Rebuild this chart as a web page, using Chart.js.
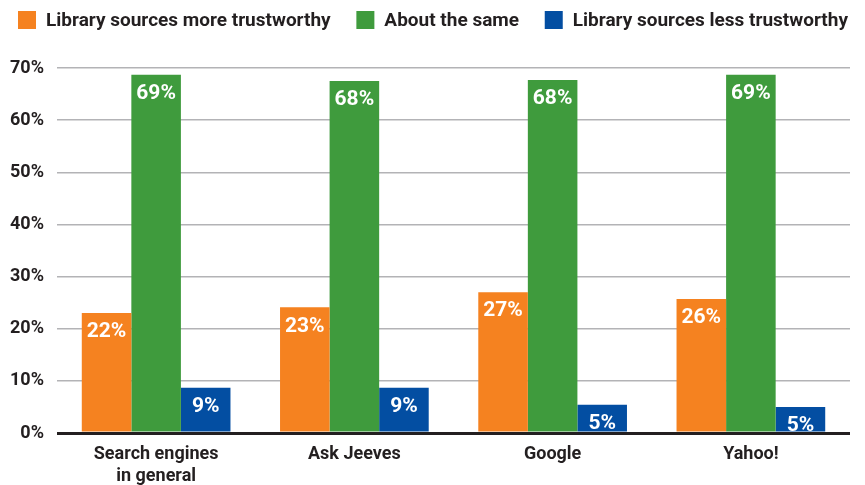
<!DOCTYPE html>
<html>
<head>
<meta charset="utf-8">
<script src="https://cdn.jsdelivr.net/npm/chart.js@4.4.1/dist/chart.umd.min.js"></script>
<style>
  html, body { margin: 0; padding: 0; background: #fff; }
  #wrap { width: 865px; height: 485px; position: relative; }
</style>
</head>
<body>
<div id="wrap"><canvas id="chart"></canvas></div>
<script>
// categorii si serii
const categories = [['Search engines', 'in general'], 'Ask Jeeves', 'Google', 'Yahoo!'];
const seriesNames = ['Library sources more trustworthy', 'About the same', 'Library sources less trustworthy'];

// inaltimea barelor (cum apar pe axa)
const moreTrust = [23.0, 24.1, 27.0, 25.7];
const aboutSame = [68.7, 67.5, 67.7, 68.7];
const lessTrust = [8.7, 8.7, 5.4, 5.0];

// etichetele tiparite pe bare
const moreLabels = ['22%', '23%', '27%', '26%'];
const sameLabels = ['69%', '68%', '68%', '69%'];
const lessLabels = ['9%', '9%', '5%', '5%'];

const yTicks = [0, 10, 20, 30, 40, 50, 60, 70];

const colors = ['#f58220', '#3f9b3d', '#034ea2'];
const textColor = '#231f20';
const fontFamily = 'Roboto, "Noto Sans", sans-serif';

// etichete albe in varful barelor
const barLabels = {
    id: 'barLabels',
    afterDatasetsDraw(chart) {
        const ctx = chart.ctx;
        ctx.save();
        ctx.fillStyle = '#ffffff';
        ctx.font = 'bold 21px ' + fontFamily;
        ctx.textAlign = 'center';
        ctx.textBaseline = 'middle';
        chart.data.datasets.forEach((ds, i) => {
            const meta = chart.getDatasetMeta(i);
            meta.data.forEach((bar, j) => {
                ctx.fillText(ds.printed[j], bar.x, bar.y + 19);
            });
        });
        ctx.restore();
    }
};

// legenda desenata manual, intinsa pe toata latimea de sus
const topLegend = {
    id: 'topLegend',
    afterDraw(chart) {
        const ctx = chart.ctx;
        const left = 18, right = 848, box = 18, gap = 10, y = 20;
        ctx.save();
        ctx.font = 'bold 19px ' + fontFamily;
        ctx.textBaseline = 'middle';
        const widths = chart.data.datasets.map(ds => box + gap + ctx.measureText(ds.label).width);
        const total = widths.reduce((a, b) => a + b, 0);
        const space = (right - left - total) / (widths.length - 1);
        let x = left;
        chart.data.datasets.forEach((ds, i) => {
            ctx.fillStyle = ds.backgroundColor;
            ctx.fillRect(x, y - box / 2, box, box);
            ctx.fillStyle = textColor;
            ctx.fillText(ds.label, x + box + gap, y + 1);
            x += widths[i] + space;
        });
        ctx.restore();
    }
};

const ctx = document.getElementById('chart').getContext('2d');

new Chart(ctx, {
    type: 'bar',
    data: {
        labels: categories,
        datasets: [
            { label: seriesNames[0], data: moreTrust, printed: moreLabels, backgroundColor: colors[0] },
            { label: seriesNames[1], data: aboutSame, printed: sameLabels, backgroundColor: colors[1] },
            { label: seriesNames[2], data: lessTrust, printed: lessLabels, backgroundColor: colors[2] }
        ]
    },
    options: {
        responsive: true,
        maintainAspectRatio: false,
        animation: false,
        layout: { padding: { left: 0, right: 15, top: 68, bottom: 0 } },
        datasets: {
            bar: { categoryPercentage: 0.75, barPercentage: 1.0, borderWidth: 0 }
        },
        plugins: {
            legend: { display: false },
            tooltip: { enabled: false }
        },
        scales: {
            x: {
                grid: { display: false, drawTicks: false },
                border: { display: false },
                ticks: {
                    color: textColor,
                    padding: 10,
                    font: { family: fontFamily, size: 18, weight: 'bold', lineHeight: 1.25 }
                },
                afterFit(scale) { scale.height = 52; }
            },
            y: {
                min: 0,
                max: 70,
                afterBuildTicks(scale) { scale.ticks = yTicks.map(v => ({ value: v })); },
                grid: {
                    drawTicks: false,
                    color: c => c.tick.value === 0 ? textColor : '#b3b3b6',
                    lineWidth: c => c.tick.value === 0 ? 3 : 1.5
                },
                border: { display: false },
                ticks: {
                    color: textColor,
                    padding: 13,
                    font: { family: fontFamily, size: 18, weight: 'bold' },
                    callback: v => v + '%'
                },
                afterFit(scale) { scale.width = 57; }
            }
        }
    },
    plugins: [barLabels, topLegend]
});
</script>
</body>
</html>
